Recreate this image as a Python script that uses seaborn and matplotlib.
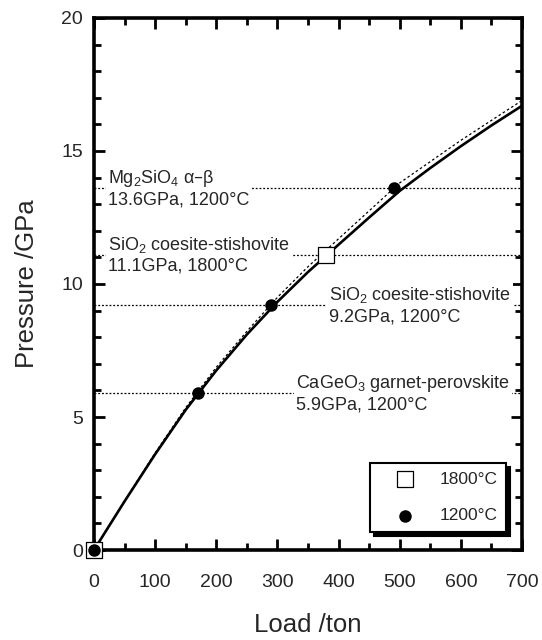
"""Calibration curve: pressure vs. press load with fixed-point transitions."""

import matplotlib

matplotlib.use("Agg")

import matplotlib.pyplot as plt
import pandas as pd
import seaborn as sns
from matplotlib.ticker import MultipleLocator

sns.set_theme(style="ticks")
plt.rcParams["font.family"] = ["Liberation Sans", "DejaVu Sans"]
plt.rcParams["mathtext.default"] = "regular"

# calibration curves (load in ton, pressure in GPa)
curve_load = [0, 50, 100, 150, 200, 250, 300, 350, 400, 450, 500, 550, 600, 650, 700]
curve_solid = [0, 1.83, 3.6, 5.27, 6.75, 8.1, 9.33, 10.45, 11.48, 12.5, 13.5,
               14.36, 15.18, 15.96, 16.7]
curve_dotted = [0, 1.85, 3.65, 5.35, 6.87, 8.22, 9.5, 10.65, 11.7, 12.75, 13.8,
                14.6, 15.4, 16.15, 16.9]

# fixed points
load_1800 = [0, 380]
pres_1800 = [0, 11.1]
load_1200 = [0, 170, 290, 490]
pres_1200 = [0, 5.9, 9.2, 13.6]

# transition labels: pressure level, text anchor (load), text
trans_pres = [13.6, 11.1, 9.2, 5.9]
trans_x = [23, 23, 384, 330]
trans_text = [
    "Mg$_2$SiO$_4$ α–β\n13.6GPa, 1200°C",
    "SiO$_2$ coesite-stishovite\n11.1GPa, 1800°C",
    "SiO$_2$ coesite-stishovite\n9.2GPa, 1200°C",
    "CaGeO$_3$ garnet-perovskite\n5.9GPa, 1200°C",
]

curvas = pd.DataFrame({"load": curve_load, "solid": curve_solid, "dotted": curve_dotted})

fig = plt.figure(figsize=(5.42, 6.4), dpi=100)
ax = fig.add_axes([0.1734, 0.1406, 0.9631 - 0.1734, 0.9719 - 0.1406])

for p in trans_pres:
    ax.axhline(p, color="black", lw=0.9, ls=(0, (1.5, 1.5)), zorder=1)
for x, p, t in zip(trans_x, trans_pres, trans_text):
    ax.text(x, p, t, fontsize=13, va="center", ha="left", zorder=2,
            bbox=dict(facecolor="white", edgecolor="none", pad=1.5))

sns.lineplot(data=curvas, x="load", y="dotted", ax=ax, color="black", lw=0.9,
             linestyle=(0, (2, 2)), zorder=3)
sns.lineplot(data=curvas, x="load", y="solid", ax=ax, color="black", lw=1.9, zorder=4)

sns.scatterplot(x=load_1800, y=pres_1800, ax=ax, marker="s", s=121, facecolor="white",
                edgecolor="black", linewidth=0.9, zorder=5, clip_on=False, label="1800°C")
sns.scatterplot(x=load_1200, y=pres_1200, ax=ax, marker="o", s=81, color="black",
                edgecolor="black", linewidth=0, zorder=6, clip_on=False, label="1200°C")

ax.set_xlim(0, 700)
ax.set_ylim(0, 20)
ax.xaxis.set_major_locator(MultipleLocator(100))
ax.xaxis.set_minor_locator(MultipleLocator(50))
ax.yaxis.set_major_locator(MultipleLocator(5))
ax.yaxis.set_minor_locator(MultipleLocator(1))
ax.tick_params(which="both", direction="in", top=True, right=True, width=2,
               color="black", labelsize=14)
ax.tick_params(which="major", length=8)
ax.tick_params(which="minor", length=5)
ax.tick_params(axis="x", which="major", pad=17)
ax.tick_params(axis="y", which="major", pad=8)
for lado in ax.spines.values():
    lado.set_linewidth(2.6)
    lado.set_color("black")

ax.set_xlabel("Load /ton", fontsize=18.5, labelpad=16)
ax.set_ylabel("Pressure /GPa", fontsize=18.5, labelpad=16)

leg = ax.legend(loc="lower right", bbox_to_anchor=(0.9626, 0.0338), borderaxespad=0,
                fontsize=12.5, frameon=True, fancybox=False, borderpad=0.5,
                handlelength=3.14, handletextpad=0.38, labelspacing=1.22,
                shadow={"ox": 3, "oy": -3, "facecolor": "black",
                        "edgecolor": "black", "alpha": 1})
leg.get_frame().set_edgecolor("black")
leg.get_frame().set_linewidth(1.5)
leg.get_frame().set_alpha(1)
leg.set_zorder(10)

fig.savefig("out.png", dpi=100)
plt.close(fig)
